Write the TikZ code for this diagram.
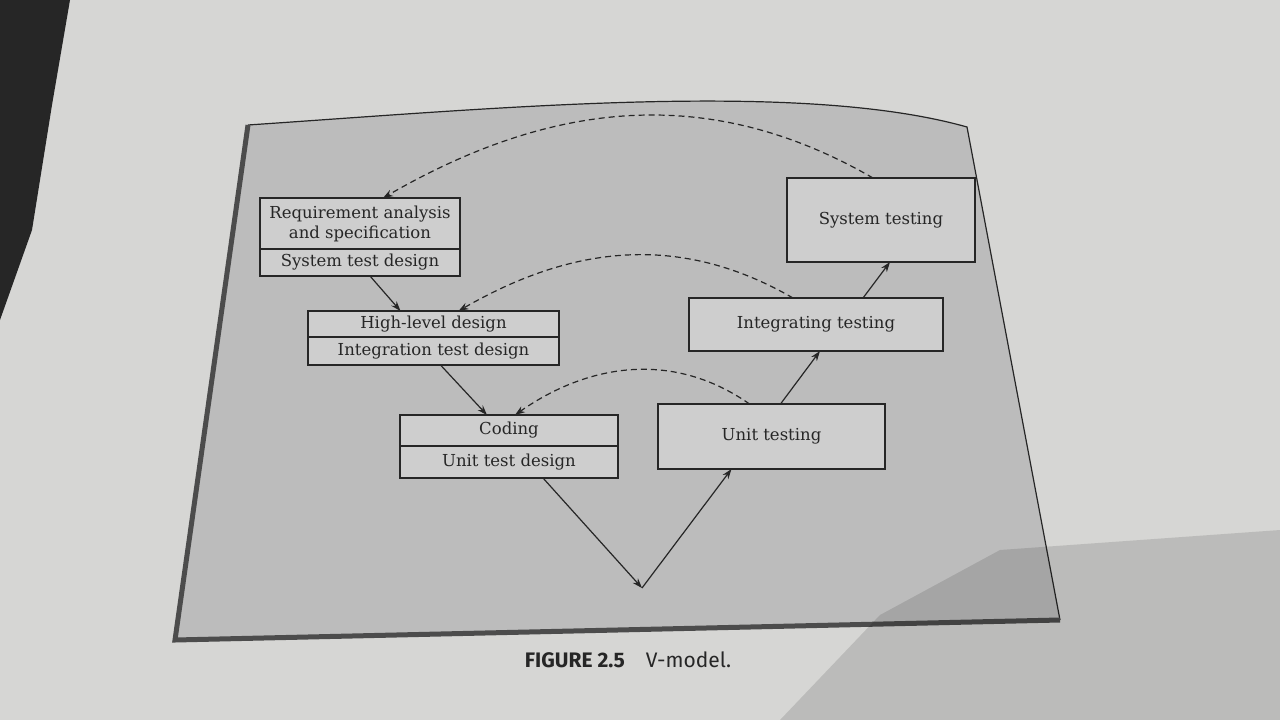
\documentclass[tikz,border=0pt]{standalone}
\usepackage{fontspec}
\setmainfont{DejaVu Serif}
\newfontfamily\capfont{Fira Sans}
\usetikzlibrary{positioning,arrows.meta}
\definecolor{page}{RGB}{214,214,212}
\definecolor{panel}{RGB}{188,188,188}
\definecolor{boxfill}{RGB}{206,206,206}
\definecolor{ink}{RGB}{38,38,38}
\tikzstyle{stage} = [draw=ink, line width=1.2pt, fill=boxfill, rectangle, align=center, inner sep=2pt, outer sep=0pt, text=ink, font={\fontsize{16.5}{20}\selectfont}]
\tikzstyle{flow} = [-{Stealth[length=10pt,width=7pt]}, draw=ink, line width=1.2pt]
\tikzstyle{plan} = [flow, dash pattern=on 6pt off 4pt]

\begin{document}
\begin{tikzpicture}[x=1pt,y=-1pt]
    \useasboundingbox (0,0) rectangle (1280,720);
    \fill[page] (0,0) rectangle (1280,720);
    \fill[black!85] (0,0) -- (70,0) -- (52,105) -- (32,230) -- (0,320) -- cycle;
    \fill[panel] (248,125) .. controls (500,108) and (800,80) .. (967,127) -- (1060,620) -- (175,640) -- cycle;
    \draw[ink, line width=1.2pt] (248,125) .. controls (500,108) and (800,80) .. (967,127) -- (1060,620);
    \draw[black!70, line width=5pt] (248,125) -- (175,640) -- (1060,620);
    \node[stage, minimum width=200, minimum height=51](req) at (360,223.5){Requirement analysis\\and specification};
    \node[stage, minimum width=200, minimum height=27, below=0pt of req](reqt){System test design};
    \node[stage, minimum width=251, minimum height=26](hl) at (433.5,324){High-level design};
    \node[stage, minimum width=251, minimum height=28, below=0pt of hl](hlt){Integration test design};
    \node[stage, minimum width=218, minimum height=31](cod) at (509,430.5){Coding};
    \node[stage, minimum width=218, minimum height=32, below=0pt of cod](codt){Unit test design};
    \node[stage, minimum width=227, minimum height=65](ut) at (771.5,436.5){Unit testing};
    \node[stage, minimum width=254, minimum height=53](it) at (816,324.5){Integrating testing};
    \node[stage, minimum width=188, minimum height=84](st) at (881,220){System testing};
    \coordinate (v) at (642,588);
    \draw[flow]([xshift=10pt]reqt.south)--([xshift=-33pt]hl.north);
    \draw[flow]([xshift=7pt]hlt.south)--([xshift=-22pt]cod.north);
    \draw[flow]([xshift=34pt]codt.south)--(v);
    \draw[flow](v)--([xshift=-40pt]ut.south);
    \draw[flow]([xshift=9pt]ut.north)--([xshift=4pt]it.south);
    \draw[flow]([xshift=47pt]it.north)--([xshift=9pt]st.south);
    \draw[plan]([xshift=-8pt]st.north)to[out=150,in=30]([xshift=23pt]req.north);
    \draw[plan]([xshift=-23pt]it.north)to[out=150,in=30]([xshift=25pt]hl.north);
    \draw[plan]([xshift=-22pt]ut.north)to[out=145,in=35]([xshift=6pt]cod.north);
    \node[text=ink, font={\capfont\fontsize{21}{25}\selectfont}](cap) at (628,660){\textbf{FIGURE 2.5}\quad V-model.};
    \fill[black, opacity=0.12] (780,720) -- (880,615) -- (1000,550) -- (1280,530) -- (1280,720) -- cycle;
  \end{tikzpicture}
\end{document}
